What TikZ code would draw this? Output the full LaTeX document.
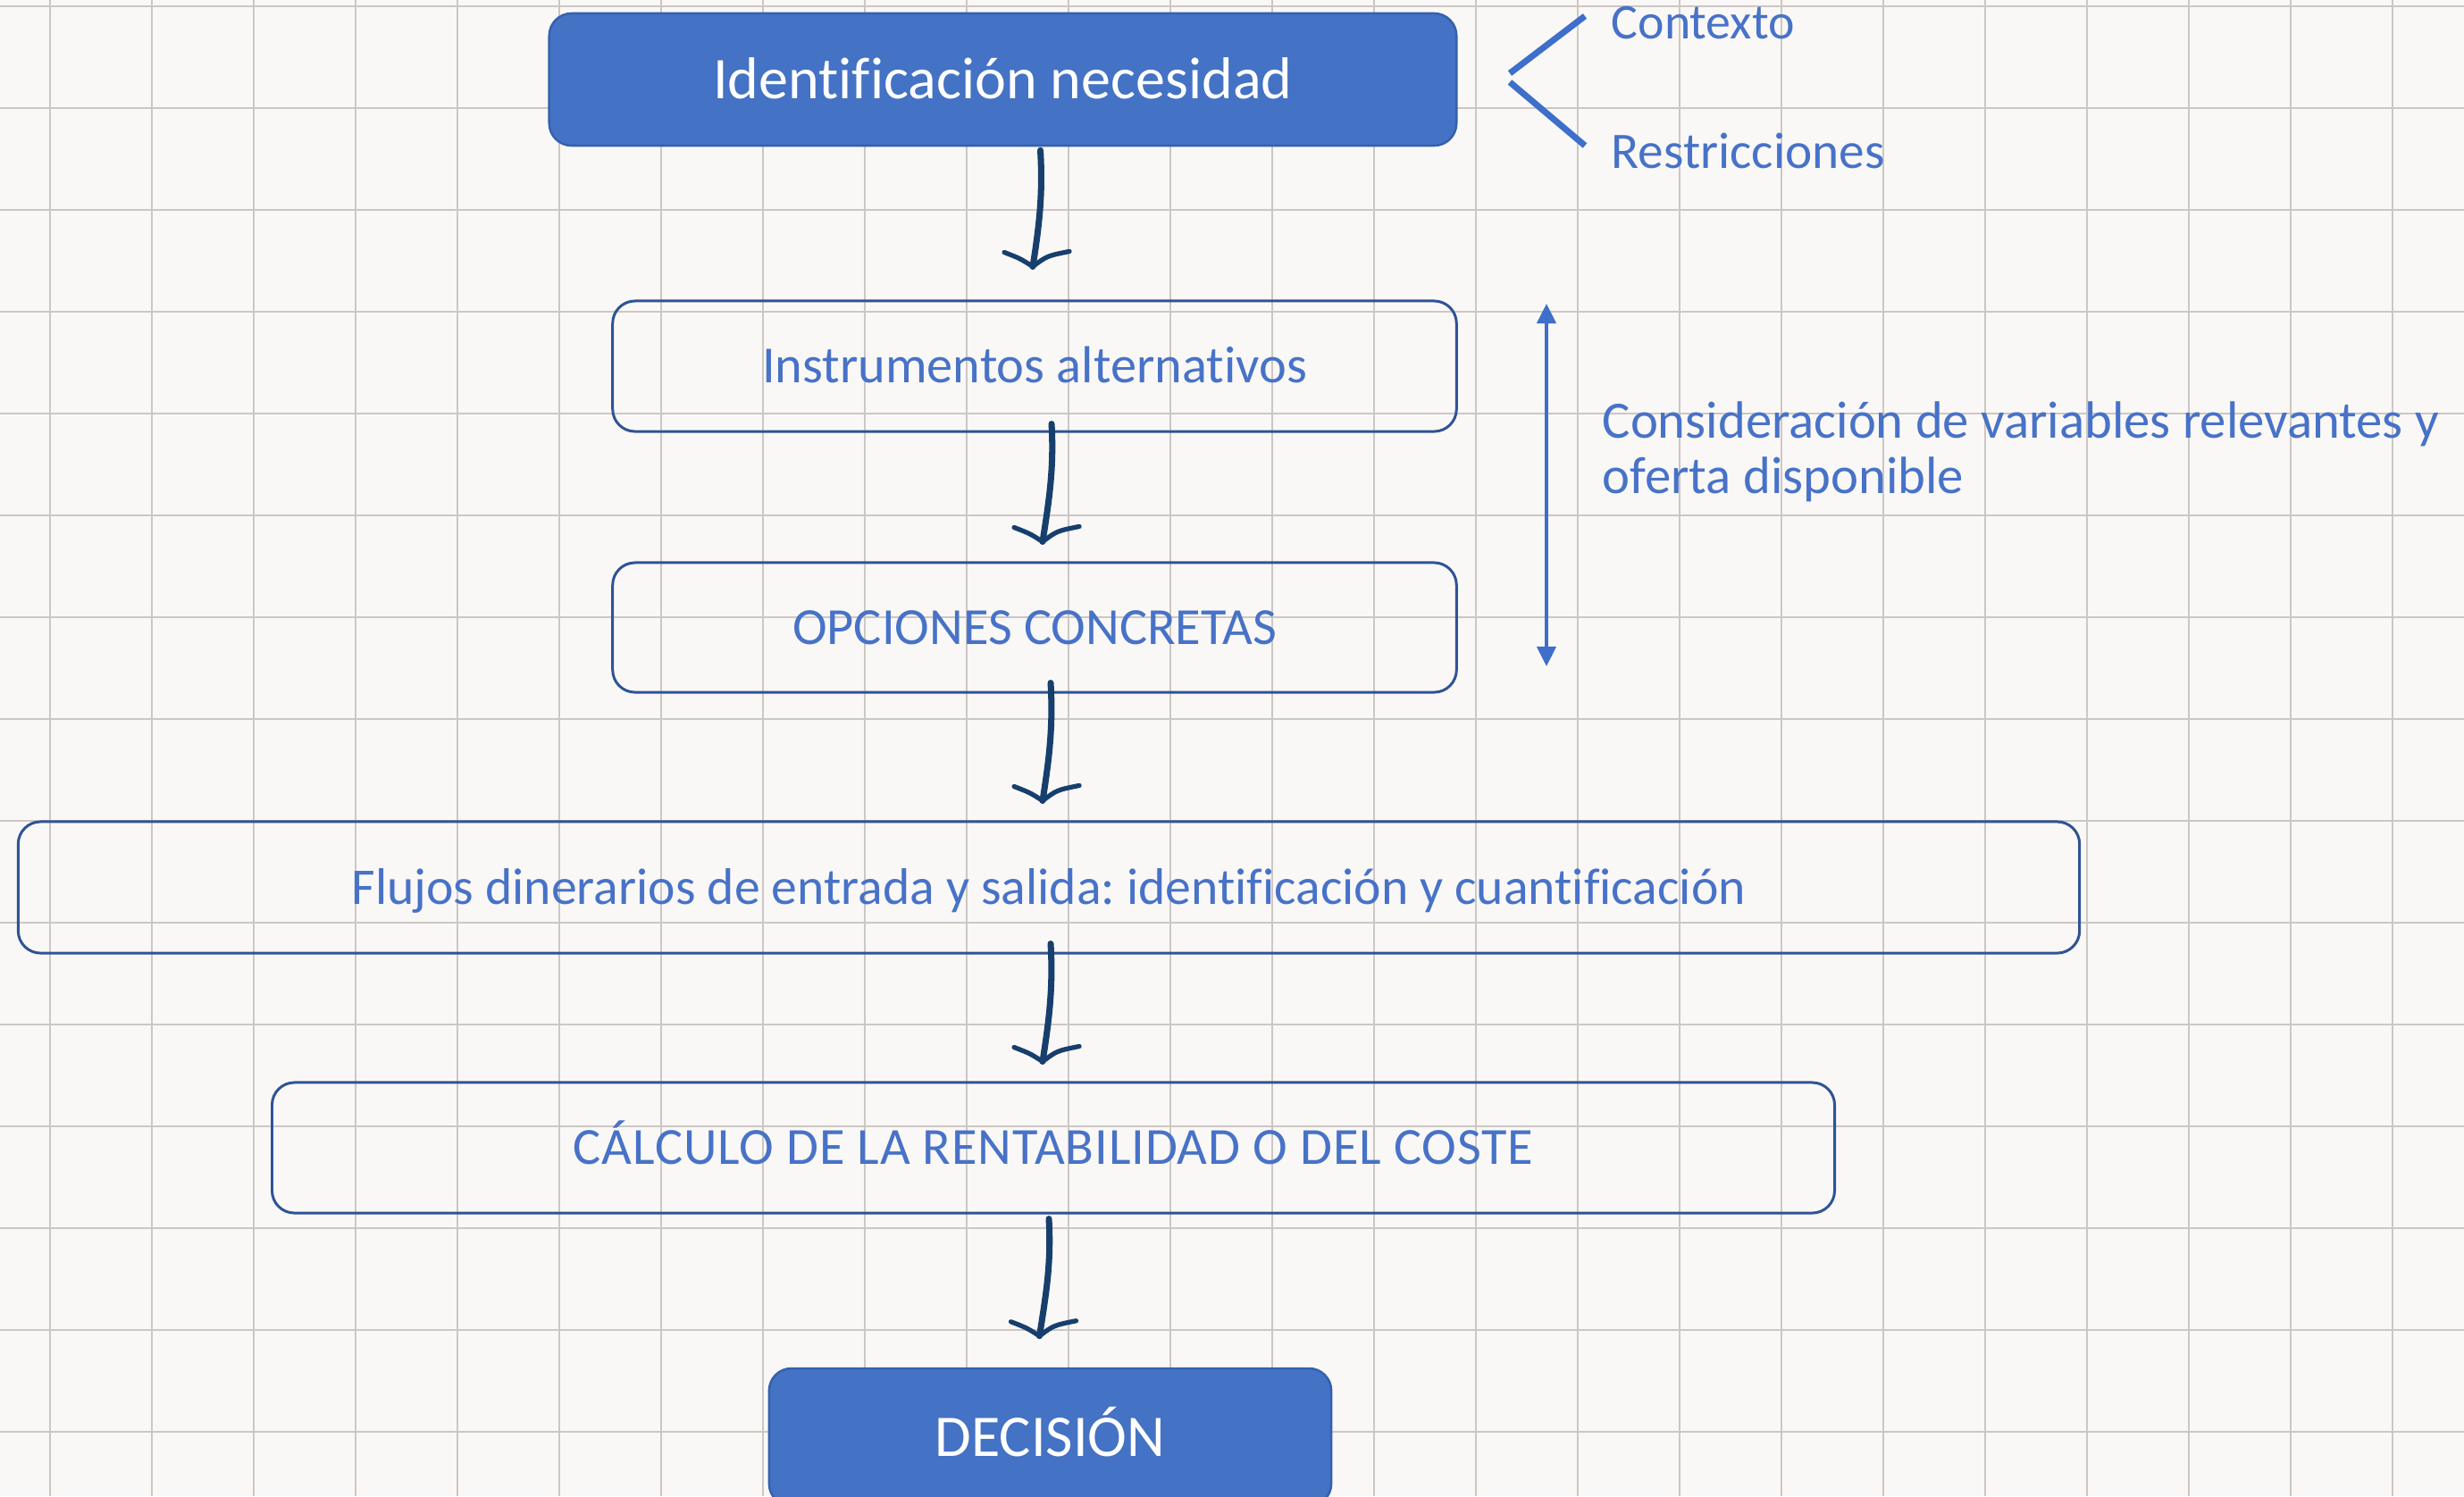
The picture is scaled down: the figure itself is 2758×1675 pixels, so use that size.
\documentclass[tikz,border=0pt]{standalone}
\usepackage{fontspec}
\setmainfont[Ligatures=NoCommon]{Carlito}
\frenchspacing
\usetikzlibrary{arrows.meta,calc}
\definecolor{bg}{HTML}{FAF8F6}
\definecolor{gridc}{HTML}{CCC7C3}
\definecolor{fillb}{HTML}{4472C4}
\definecolor{edgeb}{HTML}{3461AD}
\definecolor{obord}{HTML}{2F5396}
\definecolor{btext}{HTML}{4772C8}
\definecolor{navy}{HTML}{173F6E}
\definecolor{mblue}{HTML}{3D6FCB}
\newcommand\handarrowdraw[2]{%
  \coordinate (hs) at #1;
  \coordinate (ht) at #2;
  \draw[handstem] (hs) .. controls ($(hs)+(3,50)$) and ($(ht)+(7,-45)$) .. (ht);
  \draw[handbarb] ($(ht)+(-32,-16)$) .. controls ($(ht)+(-14,-9)$) .. (ht)
                  .. controls ($(ht)+(16,-12)$) .. ($(ht)+(41,-17)$);
}
\begin{document}
\begin{tikzpicture}[x=0.01cm,y=-0.01cm,
  gridline/.style={gridc, line width=0.45pt},
  fbox/.style={draw=edgeb, line width=0.7pt, fill=fillb, rounded corners=0.25cm,
    text=white, font=\fontsize{18.8}{22}\selectfont, inner sep=0pt,
    text height=0.42cm, text depth=0cm},
  obox/.style={draw=obord, line width=0.85pt, rounded corners=0.25cm,
    text=btext, font=\fontsize{16.6}{20}\selectfont, inner sep=0pt,
    text height=0.37cm, text depth=0cm},
  sidelabel/.style={text=btext, font=\fontsize{16.7}{20}\selectfont,
    inner sep=0pt, anchor=base west},
  handstem/.style={navy, line width=2pt, line cap=round},
  handbarb/.style={navy, line width=1.5pt, line cap=round, line join=round},
  brack/.style={mblue, line width=2pt},
  dblarrow/.style={mblue, line width=1.2pt,
    {Triangle[width=6pt,length=6.3pt]}-{Triangle[width=6pt,length=6.3pt]}}
]
\useasboundingbox (0,0) rectangle (2758,1675);
\clip (0,0) rectangle (2758,1675);
\fill[bg] (0,0) rectangle (2758,1675);
\foreach \i in {0,...,23} \draw[gridline] ({56+114*\i},0) -- ({56+114*\i},1675);
\foreach \j in {0,...,14} \draw[gridline] (0,{7+114*\j}) -- (2758,{7+114*\j});

% boxes
\node[fbox, minimum width=10.15cm, minimum height=1.48cm] (b1) at (1122.5,89) {Identificación necesidad};
\node[obox, minimum width=9.44cm, minimum height=1.46cm] (b2) at (1158,410) {Instrumentos alternativos};
\node[obox, minimum width=9.44cm, minimum height=1.45cm] (b3) at (1158,702.5) {OPCIONES CONCRETAS};
\node[obox, font=\fontsize{16.4}{20}\selectfont, minimum width=23.06cm, minimum height=1.47cm] (b4) at (1174,993.5) {Flujos dinerarios de entrada y salida: identificación y cuantificación};
\node[obox, minimum width=17.48cm, minimum height=1.46cm] (b5) at (1179,1285) {\addfontfeatures{LetterSpace=1.5}CÁLCULO DE LA RENTABILIDAD O DEL COSTE};
\node[fbox, minimum width=6.29cm, minimum height=1.54cm] (b6) at (1175.5,1609) {DECISIÓN};

% hand-drawn arrows
\handarrowdraw{($(b1.south)+(42,4)$)}{($(b2.north)+(-2,-37)$)}
\handarrowdraw{($(b2.south)+(19,-10)$)}{($(b3.north)+(9,-22)$)}
\handarrowdraw{($(b3.south)+(18,-12)$)}{($(b4.north)+(-7,-22)$)}
\handarrowdraw{($(b4.south)+(2,-12)$)}{($(b5.north)+(-12,-22)$)}
\handarrowdraw{($(b5.south)+(-5,5)$)}{($(b6.north)+(-12,-35)$)}

% bracket
\coordinate (k1) at (1774,18);
\coordinate (k2) at (1690,82);
\coordinate (k3) at (1690,92);
\coordinate (k4) at (1774,163);
\draw[brack] (k1) -- (k2);
\draw[brack] (k3) -- (k4);
\node[sidelabel, font=\fontsize{15.9}{19}\selectfont] (ctx) at (1803,43) {Contexto};
\node[sidelabel, font=\fontsize{16.3}{19}\selectfont] (res) at (1803,188) {Restricciones};

% double arrow
\coordinate (d1) at (1731,340);
\coordinate (d2) at (1731,746);
\draw[dblarrow] (d1) -- (d2);
\node[sidelabel] (cons1) at (1793,490) {Consideración de variables relevantes y};
\node[sidelabel] (cons2) at (1793,552) {oferta disponible};
\end{tikzpicture}
\end{document}
